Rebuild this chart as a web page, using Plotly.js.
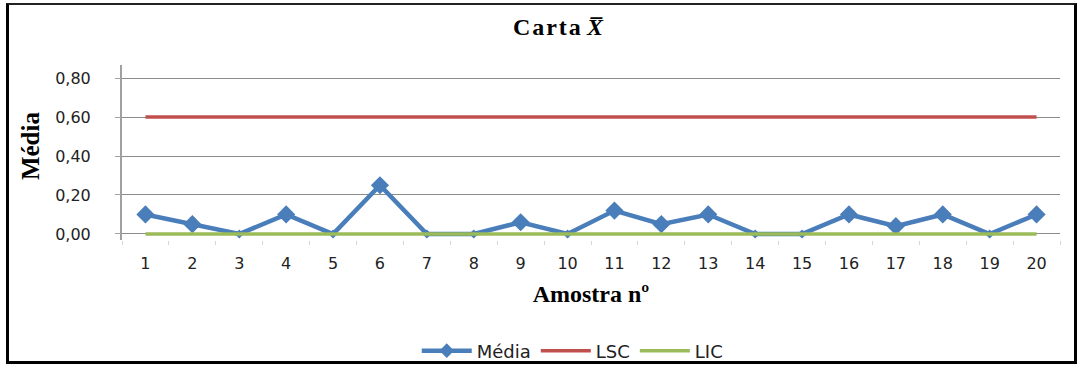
<!DOCTYPE html>
<html>
<head>
<meta charset="utf-8">
<script src="https://cdn.plot.ly/plotly-3.0.1.min.js"></script>
<style>
  html, body { margin: 0; padding: 0; background: #fff; }
  #wrap { position: relative; width: 1077px; height: 365px; overflow: hidden; }
  #chart { position: absolute; left: 0; top: 0; width: 1077px; height: 365px; }
  #frame { position: absolute; left: 6px; top: 3px; width: 1071px; height: 361px;
           border-left: 3px solid #000; border-right: 3px solid #000; border-bottom: 3px solid #000;
           border-top: 2px solid #222; pointer-events: none; box-sizing: border-box; }
</style>
</head>
<body>
<div id="wrap">
  <div id="chart"></div>
  <div id="frame"></div>
</div>
<script>
const amostras = ['1','2','3','4','5','6','7','8','9','10','11','12','13','14','15','16','17','18','19','20'];
const media = [0.10, 0.05, 0.00, 0.10, 0.00, 0.25, 0.00, 0.00, 0.06, 0.00, 0.12, 0.05, 0.10, 0.00, 0.00, 0.10, 0.04, 0.10, 0.00, 0.10];
const lsc = [0.60, 0.60, 0.60, 0.60, 0.60, 0.60, 0.60, 0.60, 0.60, 0.60, 0.60, 0.60, 0.60, 0.60, 0.60, 0.60, 0.60, 0.60, 0.60, 0.60];
const lic = [0.00, 0.00, 0.00, 0.00, 0.00, 0.00, 0.00, 0.00, 0.00, 0.00, 0.00, 0.00, 0.00, 0.00, 0.00, 0.00, 0.00, 0.00, 0.00, 0.00];
const yTicks = [0, 0.2, 0.4, 0.6, 0.8];

const sans = 'DejaVu Sans, Verdana, sans-serif';
const serif = 'Liberation Serif, Times New Roman, serif';

const traces = [
  { x: amostras, y: media, name: 'Média', type: 'scatter', mode: 'lines+markers',
    line: { color: '#4A7EBB', width: 4.5 },
    marker: { symbol: 'diamond', size: media.map(v => v === 0 ? 7 : 14), color: '#4A7EBB', opacity: 1,
              line: { width: 0 } } },
  { x: amostras, y: lsc, name: 'LSC', type: 'scatter', mode: 'lines',
    line: { color: '#C0504D', width: 3.5 } },
  { x: amostras, y: lic, name: 'LIC', type: 'scatter', mode: 'lines',
    line: { color: '#9BBB59', width: 3.5 } }
];

const layout = {
  width: 1077, height: 365,
  margin: { l: 122, r: 17, t: 65, b: 125, autoexpand: false },
  paper_bgcolor: '#fff', plot_bgcolor: '#fff',
  separators: ', ',
  showlegend: true,
  title: { text: '<b>C\u200Aa\u200Ar\u200At\u200Aa <i>X̅</i></b>', x: 0.518, xref: 'container', xanchor: 'center',
           y: 0.926, yref: 'container', yanchor: 'middle',
           font: { family: serif, size: 24, color: '#000' } },
  xaxis: {
    type: 'category', range: [-0.5, 19.5], automargin: false,
    showgrid: false, showline: false, zeroline: false,
    ticks: 'outside', tickson: 'boundaries', ticklen: 4, tickcolor: '#d8d8d8', tickwidth: 1,
    ticklabelstandoff: 12,
    tickfont: { family: sans, size: 16, color: '#222' },
    title: { text: '<b>Amostra nº</b>', standoff: 13, font: { family: serif, size: 24, color: '#000' } }
  },
  yaxis: {
    range: [-0.031, 0.867], tickvals: yTicks, tickformat: '.2f', automargin: false,
    showgrid: true, gridcolor: '#8c8c8c', gridwidth: 1,
    zeroline: true, zerolinecolor: '#8c8c8c', zerolinewidth: 1,
    showline: true, linecolor: '#a0a0a0', linewidth: 2,
    ticks: 'outside', ticklen: 5, tickcolor: '#a0a0a0',
    ticklabelstandoff: 21,
    tickfont: { family: sans, size: 16, color: '#222' }
  },
  annotations: [
    { text: '<b>Média</b>', xref: 'paper', yref: 'paper', x: -0.098, y: 0.537,
      xanchor: 'center', yanchor: 'middle', textangle: -90, showarrow: false,
      font: { family: serif, size: 25, color: '#000' } }
  ],
  legend: { orientation: 'h', x: 0.48, xanchor: 'center', y: -0.634, yanchor: 'middle',
            font: { family: sans, size: 18, color: '#222' }, itemwidth: 50, traceorder: 'normal' }
};

Plotly.newPlot('chart', traces, layout, { displayModeBar: false, staticPlot: true });
</script>
</body>
</html>
